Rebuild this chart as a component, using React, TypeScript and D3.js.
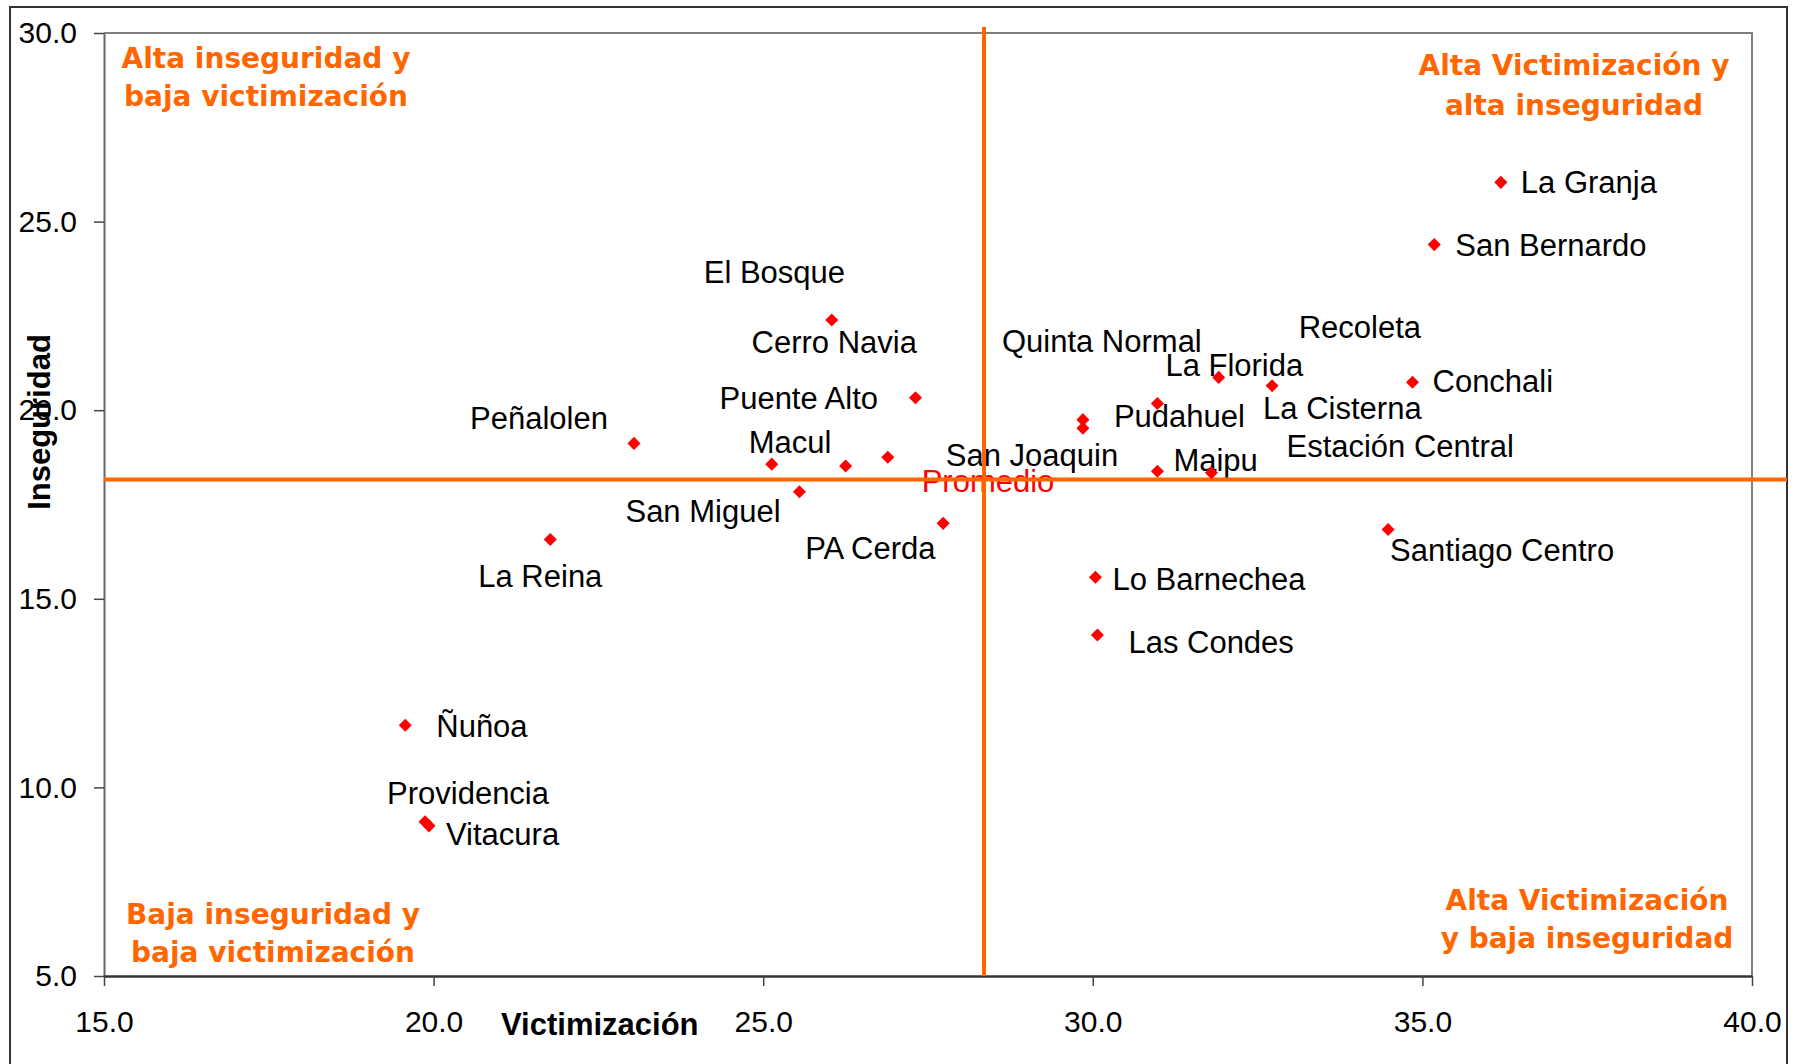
import { useEffect, useRef } from 'react'
import * as d3 from 'd3'

const comunas = ['La Granja', 'San Bernardo', 'El Bosque', 'Puente Alto', 'Peñalolen', 'Macul', 'Cerro Navia', 'San Joaquin', 'San Miguel', 'PA Cerda', 'Pudahuel', 'Quinta Normal', 'La Florida', 'Maipu', 'Lo Barnechea', 'Las Condes', 'Recoleta', 'La Cisterna', 'Conchali', 'Estación Central', 'Santiago Centro', 'La Reina', 'Ñuñoa', 'Providencia', 'Vitacura']
const victimizacion = [36.19, 35.18, 26.04, 27.31, 23.04, 25.13, 26.25, 26.89, 25.55, 27.73, 29.85, 29.85, 30.98, 30.98, 30.04, 30.07, 31.91, 32.72, 34.85, 31.80, 34.48, 21.77, 19.57, 19.87, 19.93]
const inseguridad = [26.04, 24.39, 22.39, 20.33, 19.12, 18.57, 18.52, 18.75, 17.84, 17.0, 19.75, 19.52, 20.18, 18.38, 15.57, 14.04, 20.87, 20.65, 20.74, 18.34, 16.84, 16.57, 11.65, 9.09, 8.98]

// label offsets from the marker (px), the labels were moved by hand in the original
const labelDx = [20, 21, -128, -196, -164, -23, -94, 58, -174, -138, 31, -81, 8, 16, 17, 31, 80, -9, 20, 75, 2, -72, 31, -38, 17]
const labelDy = [11, 11, -37, 11, -14, -11, -113, 9, 30, 36, 7, -76, -27, 0, 13, 18, -39, 33, 10, -16, 32, 47, 12, -18, 19]

const promedioVictimizacion = 28.35
const promedioInseguridad = 18.16

const xTicks = [15, 20, 25, 30, 35, 40]
const yTicks = [5, 10, 15, 20, 25, 30]

const cuadranteTL = ['Alta inseguridad y', 'baja victimización']
const cuadranteTR = ['Alta Victimización y', 'alta inseguridad']
const cuadranteBL = ['Baja inseguridad y', 'baja victimización']
const cuadranteBR = ['Alta Victimización', 'y baja inseguridad']

const FONT = '"Liberation Sans", Arial, sans-serif'
const QFONT = '"DejaVu Sans", Verdana, sans-serif'
const ORANGE = '#FF6600'

export default function App() {
    const svgRef = useRef<SVGSVGElement>(null)

    useEffect(() => {
        if (!svgRef.current) return
        const width = 1799
        const height = 1064
        const margin = { top: 33, right: 47, bottom: 88, left: 104 }

        const svg = d3.select(svgRef.current)
        svg.attr('width', width).attr('height', height)
        svg.selectAll('*').remove()

        svg.append('rect').attr('width', width).attr('height', height).attr('fill', '#fff')

        const x = d3.scaleLinear().domain([15, 40]).range([margin.left, width - margin.right])
        const y = d3.scaleLinear().domain([5, 30]).range([height - margin.bottom, margin.top])

        // outer chart frame
        svg.append('rect')
            .attr('x', 10).attr('y', 7)
            .attr('width', 1777).attr('height', 1100)
            .attr('fill', 'none').attr('stroke', '#333').attr('stroke-width', 2)

        // plot area border (top, right)
        svg.append('path')
            .attr('d', `M${x(15)},${y(30)}H${x(40)}V${y(5)}`)
            .attr('fill', 'none').attr('stroke', '#808080').attr('stroke-width', 2)

        const yAxis = d3.axisLeft(y).tickValues(yTicks).tickFormat(d3.format('.1f'))
            .tickSize(10).tickSizeOuter(0).tickPadding(17)
        const gy = svg.append('g').attr('transform', `translate(${margin.left},0)`).call(yAxis)
        gy.attr('font-family', FONT).attr('font-size', 30)
        gy.select('.domain').attr('stroke', '#666').attr('stroke-width', 2)
        gy.selectAll('.tick line').attr('stroke', '#444').attr('stroke-width', 1.5)
        gy.selectAll('.tick text').attr('fill', '#000')

        const xAxis = d3.axisBottom(x).tickValues(xTicks).tickFormat(d3.format('.1f'))
            .tickSize(10).tickSizeOuter(0).tickPadding(25)
        const gx = svg.append('g').attr('transform', `translate(0,${height - margin.bottom})`).call(xAxis)
        gx.attr('font-family', FONT).attr('font-size', 30)
        gx.select('.domain').attr('stroke', '#333').attr('stroke-width', 2.5)
        gx.selectAll('.tick line').attr('stroke', '#444').attr('stroke-width', 1.5)
        gx.selectAll('.tick text').attr('fill', '#000')

        // axis titles
        svg.append('text')
            .attr('x', 501).attr('y', 1035)
            .attr('font-family', FONT).attr('font-size', 31).attr('font-weight', 'bold')
            .text('Victimización')
        svg.append('text')
            .attr('transform', `translate(50,${422}) rotate(-90)`)
            .attr('text-anchor', 'middle')
            .attr('font-family', FONT).attr('font-size', 31).attr('font-weight', 'bold')
            .text('Inseguridad')

        // quadrant notes
        const quad = (lines: string[], cx: number, baselines: number[]) => {
            lines.forEach((l, i) => {
                svg.append('text')
                    .attr('x', cx).attr('y', baselines[i])
                    .attr('text-anchor', 'middle')
                    .attr('font-family', QFONT).attr('font-size', 28).attr('font-weight', 'bold')
                    .attr('fill', ORANGE)
                    .text(l)
            })
        }
        quad(cuadranteTL, 266, [68, 106])
        quad(cuadranteTR, 1574, [75, 115])
        quad(cuadranteBL, 273, [924, 962])
        quad(cuadranteBR, 1587, [910, 948])

        // data labels
        svg.selectAll('.label')
            .data(comunas)
            .enter()
            .append('text')
            .attr('class', 'label')
            .attr('x', (d, i) => x(victimizacion[i]) + labelDx[i])
            .attr('y', (d, i) => y(inseguridad[i]) + labelDy[i])
            .attr('font-family', FONT).attr('font-size', 31)
            .attr('fill', '#000')
            .text(d => d)

        svg.append('text')
            .attr('x', x(promedioVictimizacion) + 4)
            .attr('y', y(promedioInseguridad) + 12)
            .attr('text-anchor', 'middle')
            .attr('font-family', FONT).attr('font-size', 31)
            .attr('fill', '#FF0000')
            .text('Promedio')

        // average lines
        svg.append('line')
            .attr('x1', x(promedioVictimizacion)).attr('x2', x(promedioVictimizacion))
            .attr('y1', y(30) - 6).attr('y2', y(5))
            .attr('stroke', ORANGE).attr('stroke-width', 4)
        svg.append('line')
            .attr('x1', x(15)).attr('x2', 1787)
            .attr('y1', y(promedioInseguridad)).attr('y2', y(promedioInseguridad))
            .attr('stroke', ORANGE).attr('stroke-width', 4)

        // markers
        const diamond = d3.symbol().type(d3.symbolSquare).size(85)
        svg.selectAll('.point')
            .data(comunas)
            .enter()
            .append('path')
            .attr('class', 'point')
            .attr('d', diamond)
            .attr('transform', (d, i) => `translate(${x(victimizacion[i])},${y(inseguridad[i])}) rotate(45)`)
            .attr('fill', '#FF0000')
    }, [])

    return <svg ref={svgRef} style={{ position: 'absolute', left: 0, top: 0, display: 'block' }} />
}
